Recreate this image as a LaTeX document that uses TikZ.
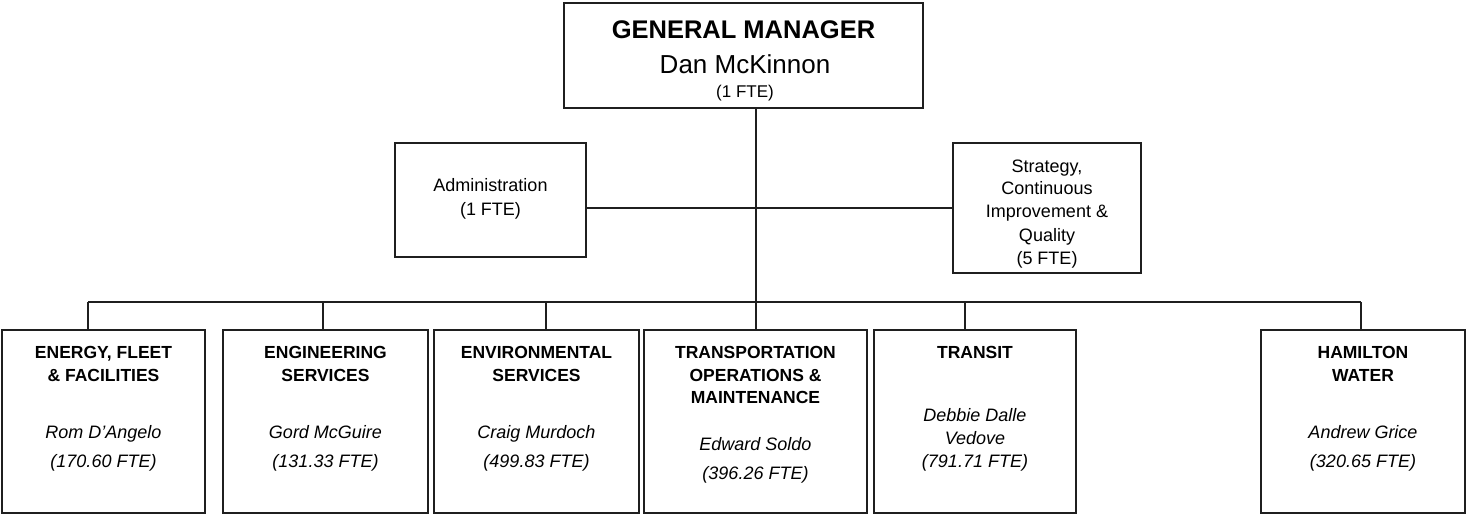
\documentclass[tikz,border=0pt]{standalone}
\usepackage{fontspec}
\setmainfont{Liberation Sans}
\begin{document}
\begin{tikzpicture}[x=1pt,y=-1pt,
  box/.style={draw=black!88, line width=2pt, inner sep=0pt, fill=white},
  link/.style={draw=black!88, line width=2pt},
  txt/.style={anchor=base, inner sep=0pt},
  gmtitle/.style={txt, font=\fontsize{25.5}{28}\selectfont\bfseries},
  gmname/.style={txt, font=\fontsize{26}{28}\selectfont},
  small/.style={txt, font=\fontsize{17}{20}\selectfont},
  plain/.style={txt, font=\fontsize{18}{21}\selectfont},
  ttl/.style={txt, font=\fontsize{17.5}{21}\selectfont\bfseries},
  body/.style={txt, font=\fontsize{18}{21}\selectfont\itshape}]

\useasboundingbox (0,0) rectangle (1468,516);

% ---- boxes ----
\node[box, minimum width=359pt, minimum height=105pt] (gm)  at (743.5,55.5) {};
\node[box, minimum width=191pt, minimum height=114pt] (adm) at (490.5,200) {};
\node[box, minimum width=188pt, minimum height=130pt] (str) at (1047,208) {};
\node[box, minimum width=203pt, minimum height=183pt] (b1) at (103.5,421.5) {};
\node[box, minimum width=205pt, minimum height=183pt] (b2) at (325.5,421.5) {};
\node[box, minimum width=205pt, minimum height=183pt] (b3) at (536.5,421.5) {};
\node[box, minimum width=223pt, minimum height=183pt] (b4) at (755.5,421.5) {};
\node[box, minimum width=202pt, minimum height=183pt] (b5) at (975,421.5) {};
\node[box, minimum width=204pt, minimum height=183pt] (b6) at (1363,421.5) {};

% ---- connectors ----
\coordinate (d1) at (88,302);
\coordinate (d2) at (323,302);
\coordinate (d3) at (546,302);
\coordinate (d5) at (965,302);
\coordinate (d6) at (1361,302);
\draw[link] (str.west -| adm.east) -- (str.west);
\draw[link] (b4.north |- gm.south) -- (b4.north);
\draw[link] (d1) -- (d6);
\draw[link] (d1) -- (d1 |- b1.north);
\draw[link] (d2) -- (d2 |- b2.north);
\draw[link] (d3) -- (d3 |- b3.north);
\draw[link] (d5) -- (d5 |- b5.north);
\draw[link] (d6) -- (d6 |- b6.north);

% ---- general manager ----
\node[gmtitle] (gm1) at (743.5,39) {GENERAL MANAGER};
\node[gmname]  (gm2) at (745,74) {Dan McKinnon};
\node[small]   (gm3) at (745,98) {(1 FTE)};

% ---- staff units ----
\node[plain] (adm1) at (490.5,192) {Administration};
\node[plain] (adm2) at (490.5,215) {(1 FTE)};

\node[plain] (str1) at (1047,172) {Strategy,};
\node[plain] (str2) at (1047,195) {Continuous};
\node[plain] (str3) at (1047,218) {Improvement \&};
\node[plain] (str4) at (1047,241) {Quality};
\node[plain] (str5) at (1047,264) {(5 FTE)};

% ---- divisions ----
\node[ttl]  (b1a) at (103.5,358) {ENERGY, FLEET};
\node[ttl]  (b1b) at (103.5,381) {\& FACILITIES};
\node[body] (b1c) at (103.5,438) {Rom D’Angelo};
\node[body] (b1d) at (103.5,467) {(170.60 FTE)};

\node[ttl]  (b2a) at (325.5,358) {ENGINEERING};
\node[ttl]  (b2b) at (325.5,381) {SERVICES};
\node[body] (b2c) at (325.5,438) {Gord McGuire};
\node[body] (b2d) at (325.5,467) {(131.33 FTE)};

\node[ttl]  (b3a) at (536.5,358) {ENVIRONMENTAL};
\node[ttl]  (b3b) at (536.5,381) {SERVICES};
\node[body] (b3c) at (536.5,438) {Craig Murdoch};
\node[body] (b3d) at (536.5,467) {(499.83 FTE)};

\node[ttl]  (b4a) at (755.5,358) {TRANSPORTATION};
\node[ttl]  (b4b) at (755.5,381) {OPERATIONS \&};
\node[ttl]  (b4c) at (755.5,403) {MAINTENANCE};
\node[body] (b4d) at (755.5,450) {Edward Soldo};
\node[body] (b4e) at (755.5,479) {(396.26 FTE)};

\node[ttl]  (b5a) at (975,358) {TRANSIT};
\node[body] (b5b) at (975,421) {Debbie Dalle};
\node[body] (b5c) at (975,444) {Vedove};
\node[body] (b5d) at (975,467) {(791.71 FTE)};

\node[ttl]  (b6a) at (1363,358) {HAMILTON};
\node[ttl]  (b6b) at (1363,381) {WATER};
\node[body] (b6c) at (1363,438) {Andrew Grice};
\node[body] (b6d) at (1363,467) {(320.65 FTE)};
\end{tikzpicture}
\end{document}
